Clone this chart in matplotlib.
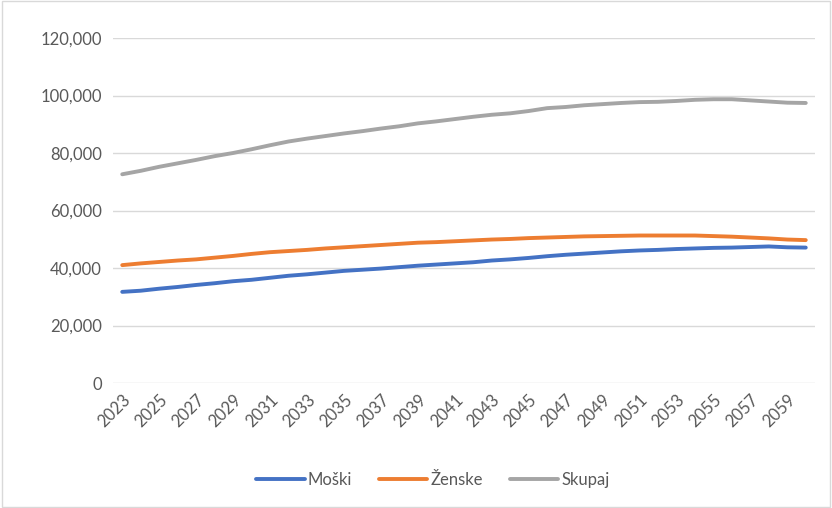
import matplotlib
matplotlib.use('Agg')
import matplotlib.pyplot as plt
from matplotlib.patches import Rectangle

plt.rcParams['font.family'] = ['Liberation Sans Narrow', 'Lato', 'DejaVu Sans']

years = list(range(2023, 2061))
moski = [31.7, 32.1, 32.8, 33.4, 34.1, 34.7, 35.4, 35.9, 36.6, 37.3, 37.8, 38.4, 39.0, 39.4,
         39.8, 40.3, 40.8, 41.2, 41.6, 42.0, 42.6, 43.0, 43.5, 44.1, 44.6, 45.0, 45.4, 45.8,
         46.1, 46.3, 46.6, 46.8, 47.0, 47.1, 47.3, 47.5, 47.2, 47.1]
zenske = [41.0, 41.6, 42.1, 42.6, 43.0, 43.6, 44.2, 44.9, 45.5, 45.9, 46.3, 46.8, 47.2, 47.6,
          48.0, 48.4, 48.8, 49.0, 49.3, 49.6, 49.9, 50.1, 50.4, 50.6, 50.8, 51.0, 51.1, 51.2,
          51.3, 51.3, 51.3, 51.3, 51.1, 50.9, 50.6, 50.3, 49.9, 49.7]
skupaj = [72.6, 73.8, 75.2, 76.4, 77.6, 78.9, 80.0, 81.3, 82.7, 84.0, 85.0, 85.9, 86.8, 87.6,
          88.5, 89.3, 90.3, 91.0, 91.8, 92.6, 93.3, 93.8, 94.6, 95.6, 96.0, 96.6, 97.0, 97.4,
          97.7, 97.8, 98.1, 98.5, 98.7, 98.7, 98.3, 97.9, 97.5, 97.4]
series = [('Moški', moski, '#4472C4'), ('Ženske', zenske, '#ED7D31'), ('Skupaj', skupaj, '#A5A5A5')]

fig = plt.figure(figsize=(8.32, 5.08), dpi=100)
ax = fig.add_axes([113 / 832, 1 - 383 / 508, 702 / 832, 345 / 508])
fig.patches.append(Rectangle((0.002, 0.002), 0.996, 0.996, transform=fig.transFigure,
                             fill=False, edgecolor='#d9d9d9', lw=1))

x = list(range(len(years)))
for name, vals, col in series:
    ax.plot(x, [v * 1000 for v in vals], color=col, lw=2.8, label=name, solid_capstyle='round')

ax.set_xlim(-0.5, len(years) - 0.5)
ax.set_ylim(0, 120000)
ax.set_yticks(range(0, 120001, 20000))
ax.set_yticklabels([f'{v:,}' for v in range(0, 120001, 20000)])
ax.set_xticks(x[::2])
ax.set_xticklabels([str(y) for y in years[::2]], rotation=45, ha='right', rotation_mode='anchor')
ax.grid(axis='y', color='#d9d9d9', lw=1)
ax.set_axisbelow(True)
for s in ax.spines.values():
    s.set_visible(False)
ax.tick_params(length=0, labelsize=12, colors='#595959', pad=8)
ax.tick_params(axis='x', pad=6)

fig.legend(loc='center', bbox_to_anchor=(433 / 832, 1 - 480 / 508), ncol=3, frameon=False,
           fontsize=12, labelcolor='#595959', handlelength=2.9, handletextpad=0.2,
           columnspacing=1.6)

fig.savefig('out.png', dpi=100)
